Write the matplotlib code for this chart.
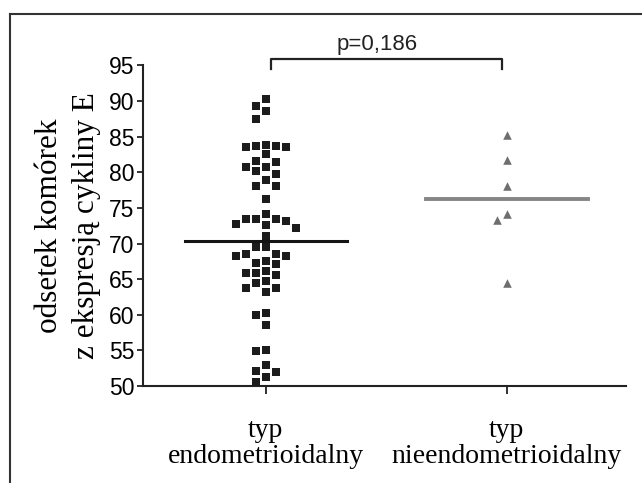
"""Odsetek komórek z ekspresją cykliny E – typ endometrioidalny vs nieendometrioidalny."""

import matplotlib

matplotlib.use("Agg")
import matplotlib.pyplot as plt
import numpy as np
from matplotlib.lines import Line2D

# values
groups = ["typ\nendometrioidalny", "typ\nnieendometrioidalny"]
endo_values = [
    90.3, 89.3, 88.65, 87.5,
    83.7, 83.7, 82.6, 81.6, 83.6, 83.6, 83.9,
    81.5, 80.8, 80.8, 80.2, 79.8, 78.9, 78.1, 78.1,
    76.2, 74.1,
    73.5, 73.4, 72.2, 72.6, 72.8, 73.2, 73.5, 71.1,
    69.5, 69.5, 68.5, 68.3, 68.6, 68.3, 67.3, 67.1, 67.6,
    65.8, 65.6, 65.9, 66.1, 64.4, 63.7, 63.2, 63.8, 64.7,
    60.0, 60.3, 58.5,
    54.9, 55.0, 53.0, 52.0, 52.1, 51.2, 50.6,
]
nonendo_values = [85.2, 81.7, 78.1, 74.1, 73.3, 64.5]
center_lines = [70.3, 76.2]
y_ticks = [50, 55, 60, 65, 70, 75, 80, 85, 90, 95]
p_text = "p=0,186"

SERIF = ["Liberation Serif", "DejaVu Serif"]
SANS = ["Liberation Sans", "DejaVu Sans"]
NARROW = ["Liberation Sans Narrow", "Liberation Sans", "DejaVu Sans"]


def swarm_offsets(values, step, min_dy):
    """Column-style swarm: put each point in the nearest free column."""
    order = np.argsort(values)[::-1]
    placed = []
    offsets = np.zeros(len(values))
    for i in order:
        v = values[i]
        k = 0
        while True:
            for col in ([0] if k == 0 else [-k, k]):
                if all(c != col or abs(pv - v) >= min_dy for c, pv in placed):
                    placed.append((col, v))
                    offsets[i] = col * step
                    break
            else:
                k += 1
                continue
            break
    return offsets


fig = plt.figure(figsize=(6.42, 4.83), dpi=100)
ax = fig.add_axes([143 / 642, 1 - 386 / 483, 483 / 642, 320.5 / 483])

endo = np.array(endo_values)
nonendo = np.array(nonendo_values)
x1 = 0 + swarm_offsets(endo, 0.041, 1.3)
x2 = 1 + swarm_offsets(nonendo, 0.041, 1.3)

ax.scatter(x1, endo, marker="s", s=40, color="#1c1c1c", linewidths=0, zorder=3)
ax.scatter(x2, nonendo, marker="^", s=38, color="#6e6e6e", linewidths=0, zorder=3)

half = 0.335
ax.plot([0 - half, 0 + half], [center_lines[0]] * 2, color="#141414", lw=2.2, zorder=4)
ax.plot([1 - half, 1 + half], [center_lines[1]] * 2, color="#858585", lw=2.8, zorder=4)

ax.set_xlim(-0.51, 1.494)
ax.set_ylim(50, 95)
ax.set_yticks(y_ticks)
ax.set_yticklabels([str(t) for t in y_ticks], family=NARROW, fontsize=16.5)
ax.set_xticks([0, 1])
ax.set_xticklabels(groups, family=SERIF, fontsize=20, linespacing=1.05)
ax.tick_params(axis="y", length=4, width=1.3, pad=2, color="#222222")
ax.tick_params(axis="x", length=6, width=1.3, pad=17, color="#222222")

for side in ("top", "right"):
    ax.spines[side].set_visible(False)
for side in ("left", "bottom"):
    ax.spines[side].set_linewidth(1.5)
    ax.spines[side].set_color("#222222")

ax.set_ylabel("odsetek komórek\nz ekspresją cykliny E", family=SERIF, fontsize=22.5,
              linespacing=1.35, labelpad=6)

# significance bracket
br_y, br_drop = 95.95, 94.5
ax.plot([0.02, 0.02, 0.98, 0.98], [br_drop, br_y, br_y, br_drop], color="#222222",
        lw=1.6, clip_on=False)
ax.text(0.46, br_y + 0.5, p_text, family=SANS, fontsize=16, ha="center", va="bottom",
        color="#222222")

# frame around the panel
fig.add_artist(Line2D([10 / 642, 1.0], [1 - 14 / 483] * 2, color="#333333", lw=1.5))
fig.add_artist(Line2D([10 / 642] * 2, [0.0, 1 - 14 / 483], color="#333333", lw=1.5))

fig.savefig("out.png", dpi=100, facecolor="white")
plt.close(fig)
